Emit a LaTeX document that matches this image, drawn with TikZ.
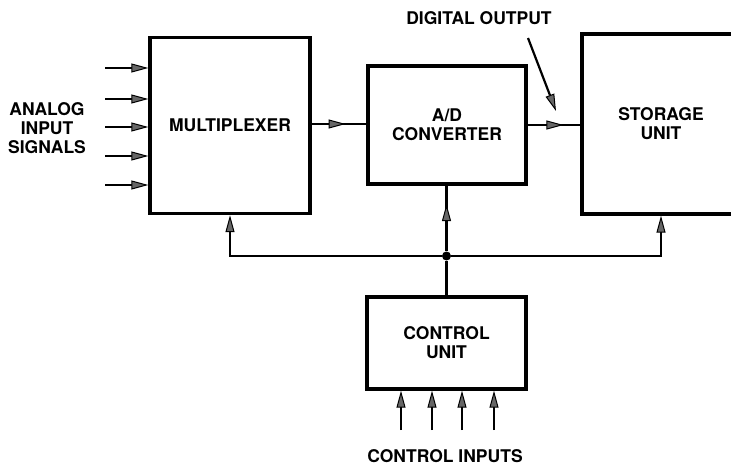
\documentclass[tikz,border=0pt]{standalone}
\usepackage{fontspec}
\setmainfont{TeX Gyre Heros}
\usetikzlibrary{arrows.meta,decorations.markings,calc}

\tikzset{
  block/.style={draw, line width=3.4pt, rectangle, inner sep=0pt,
    align=center, font=\blocktext},
  wire/.style={line width=2.2pt},
  tip/.style={-{Triangle[length=17pt,width=9pt,fill=black!60,line width=1pt]}},
  midtip/.style={postaction={decorate}, decoration={markings,
    mark=at position #1 with {\arrow{Triangle[length=17pt,width=9pt,fill=black!60,line width=1pt]}}}},
  label/.style={align=center, font=\blocktext, inner sep=0pt},
}
\newcommand{\blocktext}{\fontsize{17.5}{19}\selectfont\bfseries}

\begin{document}
\begin{tikzpicture}[x=1pt,y=-1pt]
  \useasboundingbox (0,0) rectangle (731,468);
  \fill[white] (0,0) rectangle (731,468);

  % blocks
  \node[block, minimum width=160pt, minimum height=176pt] (mux) at (230,125.5) {MULTIPLEXER};
  \node[block, minimum width=158pt, minimum height=118pt] (ad) at (447,125) {A/D\\CONVERTER};
  \node[block, minimum width=158pt, minimum height=180pt] (store) at (661,124) {STORAGE\\UNIT};
  \node[block, minimum width=159pt, minimum height=92pt] (ctrl) at (446.5,343) {CONTROL\\UNIT};

  % labels
  \node[label] (analog) at (47,128) {ANALOG\\INPUT\\SIGNALS};
  \node[label] (digout) at (479,18) {DIGITAL OUTPUT};
  \node[label] (ctrlin) at (445,456) {CONTROL INPUTS};

  % analog inputs
  \foreach \y [count=\i] in {68,99,127,156,185} {
    \coordinate (in\i) at (105,\y);
    \draw[wire,tip] (in\i) -- (in\i -| mux.west);
  }

  % data path
  \draw[wire,midtip=0.62] (mux.east |- 0,124) coordinate (m1) -- (m1 -| ad.west);
  \draw[wire,midtip=0.68] (ad.east) -- (ad.east -| store.west);

  % digital output pointer
  \coordinate (dot1) at (528,38);
  \coordinate (dot2) at (556,111);
  \draw[wire,tip] (dot1) -- (dot2);

  % control bus
  \node[circle, fill, inner sep=0pt, minimum size=9pt] (j) at (446.5,256) {};
  \draw[wire] (ctrl.north) -- (j);
  \draw[wire,midtip=0.72] (j) -- (j |- ad.south);
  \draw[wire,tip] (j) -| (mux.south);
  \draw[wire,tip] (j) -| (store.south);

  % control inputs
  \foreach \x [count=\i] in {401,432,462,494} {
    \coordinate (ci\i) at (\x,430);
    \draw[wire,tip] (ci\i) -- (ci\i |- ctrl.south);
  }
\end{tikzpicture}
\end{document}
